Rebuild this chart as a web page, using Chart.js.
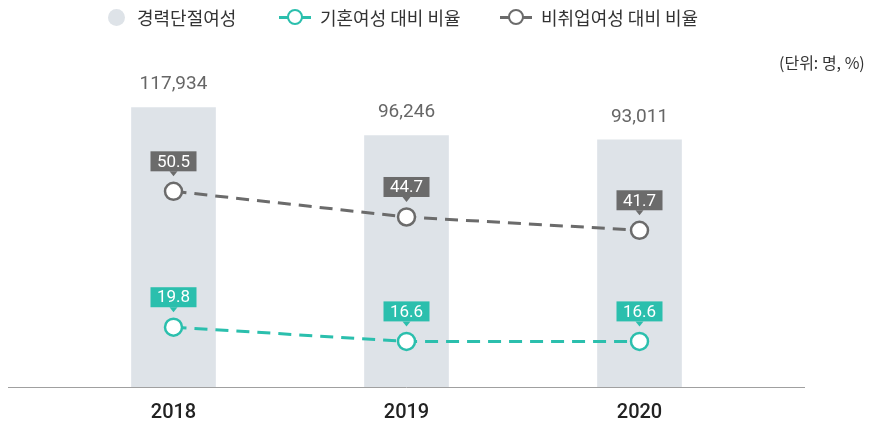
<!DOCTYPE html>
<html>
<head>
<meta charset="utf-8">
<script src="https://cdn.jsdelivr.net/npm/chart.js@4"></script>
<style>
    body { margin: 0; background: #fff; font-family: "Noto Sans CJK KR", "Noto Sans", sans-serif; }
    #wrap { position: relative; width: 873px; height: 427px; overflow: hidden; }
    #chart { position: absolute; left: 0; top: 0; }
    .lg { position: absolute; top: 4px; height: 26px; display: flex; align-items: center; font-size: 18px; color: #333; white-space: nowrap; }
    .dot { width: 17px; height: 17px; border-radius: 50%; background: #dee3e8; margin-right: 12px; }
    .mk { position: relative; width: 32px; height: 3px; margin-right: 9px; }
    .mk span { position: absolute; left: 8px; top: -7px; width: 12px; height: 12px; border-radius: 50%; background: #fff; border: 2.5px solid; }
    #unit { position: absolute; top: 50px; left: 779px; font-size: 16px; color: #333; white-space: nowrap; }
</style>
</head>
<body>
<div id="wrap">
    <canvas id="chart" width="873" height="427"></canvas>
    <div class="lg" style="left:108px"><div class="dot"></div>경력단절여성</div>
    <div class="lg" style="left:279px"><div class="mk" style="background:#2bbfad"><span style="border-color:#2bbfad"></span></div>기혼여성 대비 비율</div>
    <div class="lg" style="left:500px"><div class="mk" style="background:#6b6b6b"><span style="border-color:#6b6b6b"></span></div>비취업여성 대비 비율</div>
    <div id="unit">(단위: 명, %)</div>
</div>
<script>
// 데이터
const years = ['2018', '2019', '2020'];
const careerBreakWomen = [117934, 96246, 93011]; // 경력단절여성 (명)
const marriedRatio = [19.8, 16.6, 16.6];          // 기혼여성 대비 비율 (%)
const nonEmployedRatio = [50.5, 44.7, 41.7];      // 비취업여성 대비 비율 (%)

const teal = '#2bbfad';
const gray = '#6b6b6b';
const barAxisMin = -99000;

// 값 라벨 그리기
const valueLabels = {
    id: 'valueLabels',
    beforeDatasetsDraw(chart) {
        const ctx = chart.ctx;
        const area = chart.chartArea;
        ctx.save();
        ctx.strokeStyle = '#a0a0a0';
        ctx.lineWidth = 1;
        ctx.beginPath();
        ctx.moveTo(area.left - 49, area.bottom + 0.5);
        ctx.lineTo(area.right + 49, area.bottom + 0.5);
        ctx.stroke();
        ctx.restore();
    },
    afterDatasetsDraw(chart) {
        const ctx = chart.ctx;
        ctx.save();
        ctx.textAlign = 'center';
        ctx.textBaseline = 'middle';

        // 막대 위 숫자
        const barMeta = chart.getDatasetMeta(0);
        ctx.fillStyle = '#666';
        ctx.font = '19px Roboto';
        barMeta.data.forEach((bar, i) => {
            ctx.fillText(careerBreakWomen[i].toLocaleString('en-US'), bar.x, bar.y - 23);
        });

        // 꺾은선 라벨 박스
        [1, 2].forEach(di => {
            const ds = chart.data.datasets[di];
            const meta = chart.getDatasetMeta(di);
            meta.data.forEach((pt, i) => {
                const cy = pt.y - 30;
                ctx.fillStyle = ds.borderColor;
                ctx.fillRect(pt.x - 23, cy - 10, 46, 20);
                ctx.beginPath();
                ctx.moveTo(pt.x - 4, cy + 10);
                ctx.lineTo(pt.x + 4, cy + 10);
                ctx.lineTo(pt.x, cy + 15);
                ctx.closePath();
                ctx.fill();
                ctx.fillStyle = '#fff';
                ctx.font = '17px Roboto';
                ctx.fillText(ds.data[i].toFixed(1), pt.x, cy + 1);
            });
        });
        ctx.restore();
    }
};

new Chart(document.getElementById('chart'), {
    data: {
        labels: years,
        datasets: [
            {
                type: 'bar',
                label: '경력단절여성',
                data: careerBreakWomen,
                base: barAxisMin,
                backgroundColor: '#dee3e8',
                barThickness: 84,
                yAxisID: 'yBar',
                order: 3
            },
            {
                type: 'line',
                label: '기혼여성 대비 비율',
                data: marriedRatio,
                borderColor: teal,
                backgroundColor: '#fff',
                borderWidth: 3,
                borderDash: [13, 8],
                pointRadius: 8.5,
                pointBorderWidth: 2.5,
                pointBackgroundColor: '#fff',
                pointBorderColor: teal,
                yAxisID: 'yRate',
                order: 1
            },
            {
                type: 'line',
                label: '비취업여성 대비 비율',
                data: nonEmployedRatio,
                borderColor: gray,
                backgroundColor: '#fff',
                borderWidth: 3,
                borderDash: [13, 8],
                pointRadius: 8.5,
                pointBorderWidth: 2.5,
                pointBackgroundColor: '#fff',
                pointBorderColor: gray,
                yAxisID: 'yRate',
                order: 2
            }
        ]
    },
    options: {
        responsive: false,
        animation: false,
        layout: { padding: { top: 70, left: 57, right: 117, bottom: 0 } },
        plugins: {
            legend: { display: false },
            tooltip: { enabled: false }
        },
        scales: {
            x: {
                grid: { display: false, drawTicks: false },
                border: { display: false },
                ticks: { color: '#222', font: { family: 'Roboto', size: 20, weight: '500' }, padding: 14 },
                afterFit: (scale) => { scale.height = 40; }
            },
            yBar: { display: false, min: barAxisMin, max: 147200 },
            yRate: { display: false, position: 'right', min: 6.3, max: 77.9 }
        }
    },
    plugins: [valueLabels]
});
</script>
</body>
</html>
